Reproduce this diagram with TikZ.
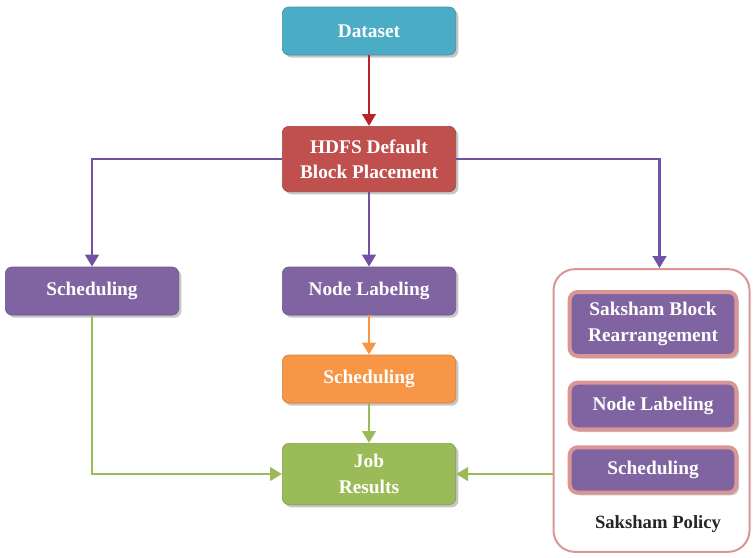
\documentclass[tikz,border=0pt]{standalone}
\usepackage{fontspec}
\setmainfont{Liberation Serif}
\usetikzlibrary{arrows.meta,shadows}

\definecolor{dsblue}{HTML}{4BACC6}
\definecolor{hdred}{HTML}{C0504D}
\definecolor{lbpurple}{HTML}{8064A2}
\definecolor{scorange}{HTML}{F79646}
\definecolor{jbgreen}{HTML}{9BBB59}
\definecolor{polpink}{HTML}{D99694}
\definecolor{redline}{HTML}{B8242A}
\definecolor{purpleline}{HTML}{7352A6}

\tikzset{
  stepbox/.style={rounded corners=5pt, minimum width=130pt, minimum height=36pt,
    align=center, text=white, font=\bfseries\fontsize{14.5}{19}\selectfont,
    draw=#1!85!black, line width=0.5pt, fill=#1,
    drop shadow={shadow xshift=2pt, shadow yshift=-2pt, opacity=0.45}},
  innerbox/.style={rounded corners=6pt, minimum width=125pt,
    align=center, text=white, font=\bfseries\fontsize{14.5}{19}\selectfont,
    draw=polpink, line width=3pt, fill=lbpurple,
    drop shadow={shadow xshift=2pt, shadow yshift=-2pt, opacity=0.45}},
  link/.style={draw=#1, line width=2.2pt, -{Triangle[length=9pt,width=10pt]}},
}

\begin{document}
\begin{tikzpicture}[x=0.75pt, y=-0.75pt]
  \useasboundingbox (0,0) rectangle (755,557);

  % main column
  \node[stepbox=dsblue] (dataset) at (369,31) {Dataset};
  \node[stepbox=hdred, minimum height=49pt] (hdfs) at (369,159) {HDFS Default\\Block Placement};
  \node[stepbox=lbpurple] (label1) at (369,291) {Node Labeling};
  \node[stepbox=scorange] (sched2) at (369,379) {Scheduling};
  \node[stepbox=jbgreen, minimum height=46pt] (job) at (369,474) {Job\\Results};

  % left branch
  \node[stepbox=lbpurple] (sched1) at (92,291) {Scheduling};

  % saksham policy
  \node[draw=polpink, line width=1.5pt, rounded corners=16pt, fill=white,
    minimum width=147pt, minimum height=212pt] (policy) at (651.5,410.5) {};
  \node[innerbox, minimum height=48pt] (block) at (653,324) {Saksham Block\\Rearrangement};
  \node[innerbox, minimum height=35pt] (label2) at (653,406) {Node Labeling};
  \node[innerbox, minimum height=34pt] (sched3) at (653,470) {Scheduling};
  \node[font=\bfseries\fontsize{14}{16}\selectfont, text=black!85] (title) at (658,524) {Saksham Policy};

  % connectors
  \draw[link=redline] (dataset) -- (hdfs);
  \begin{scope}[link=purpleline]
    \draw (hdfs.west) -| (sched1.north);
    \draw (hdfs) -- (label1);
    \draw (hdfs.east) -| ([xshift=6pt]policy.north);
  \end{scope}
  \draw[link=scorange] (label1) -- (sched2);
  \begin{scope}[link=jbgreen]
    \draw (sched2) -- (job);
    \draw (sched1.south) |- (job.west);
    \draw (policy.west |- job.east) -- (job.east);
  \end{scope}
\end{tikzpicture}
\end{document}
